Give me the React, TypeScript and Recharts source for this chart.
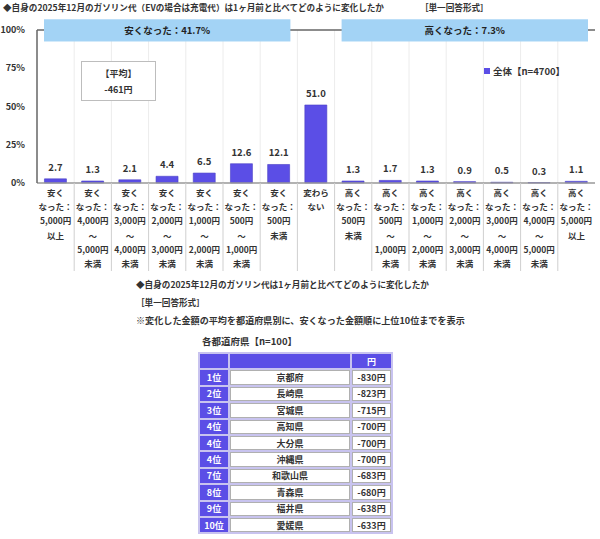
import React from 'react'
import {
  BarChart,
  Bar,
  XAxis,
  YAxis,
  CartesianGrid,
  LabelList,
  Legend,
  ReferenceArea,
} from 'recharts'

const categories = [
  '安く/なった：/5,000円/以上',
  '安く/なった：/4,000円/～/5,000円/未満',
  '安く/なった：/3,000円/～/4,000円/未満',
  '安く/なった：/2,000円/～/3,000円/未満',
  '安く/なった：/1,000円/～/2,000円/未満',
  '安く/なった：/500円/～/1,000円/未満',
  '安く/なった：/500円/未満',
  '変わら/ない',
  '高く/なった：/500円/未満',
  '高く/なった：/500円/～/1,000円/未満',
  '高く/なった：/1,000円/～/2,000円/未満',
  '高く/なった：/2,000円/～/3,000円/未満',
  '高く/なった：/3,000円/～/4,000円/未満',
  '高く/なった：/4,000円/～/5,000円/未満',
  '高く/なった：/5,000円/以上',
]
const totals = [2.7, 1.3, 2.1, 4.4, 6.5, 12.6, 12.1, 51.0, 1.3, 1.7, 1.3, 0.9, 0.5, 0.3, 1.1]
const yTicks = [0, 25, 50, 75, 100]
const groupLabels = ['安くなった：41.7%', '高くなった：7.3%']
// first and last category covered by each group banner
const groupSpans = [
  [0, 6],
  [8, 14],
]

const ranks = ['1位', '2位', '3位', '4位', '4位', '4位', '7位', '8位', '9位', '10位']
const prefectures = ['京都府', '長崎県', '宮城県', '高知県', '大分県', '沖縄県', '和歌山県', '青森県', '福井県', '愛媛県']
const amounts = [-830, -823, -715, -700, -700, -700, -683, -680, -638, -633]

const FONT = '"Noto Sans CJK JP", "Noto Sans", sans-serif'
const PURPLE = '#5b4ee6'
const BANNER = '#a3d3f5'

const W = 600
const H = 280
const LEFT = 37
const RIGHT = 5
const TOP = 30
const X_AXIS_H = 97
const band = (W - LEFT - RIGHT) / categories.length

const chartData = categories.map((c, i) => ({ name: c, total: totals[i] }))

function CategoryTick(props: any) {
  const { x, y, payload, index } = props
  const lines = String(payload.value).split('/')
  return (
    <g>
      {index > 0 && (
        <line x1={x - band / 2} x2={x - band / 2} y1={y - 8} y2={y + 80} stroke="#cfcfcf" strokeWidth={1} />
      )}
      <text textAnchor="middle" fontSize={8.5} fontWeight={700} fill="#333" fontFamily={FONT}>
        {lines.map((l, i) => (
          <tspan key={i} x={x} y={y + 5 + i * 14.2}>
            {l}
          </tspan>
        ))}
      </text>
    </g>
  )
}

// the area runs from the start of the first band to the end of the last one
function bannerShape(label: string) {
  return (p: any) => {
    const x = p.x + 7
    const w = p.width - 14
    return (
      <g>
        <rect x={x} y={p.y} width={w} height={p.height} fill={BANNER} />
        <text
          x={x + w / 2}
          y={p.y + p.height / 2 + 3.5}
          textAnchor="middle"
          fontSize={9.5}
          fontWeight={700}
          fill="#222"
          fontFamily={FONT}
        >
          {label}
        </text>
      </g>
    )
  }
}

function LegendContent() {
  return (
    <div style={{ position: 'relative', height: 0 }}>
      <div
        style={{
          position: 'absolute',
          left: 0,
          top: 0,
          display: 'flex',
          alignItems: 'center',
          whiteSpace: 'nowrap',
          fontFamily: FONT,
          fontSize: 9.5,
          fontWeight: 700,
          color: '#333',
        }}
      >
        <span style={{ display: 'inline-block', width: 6, height: 6, background: PURPLE, marginRight: 3 }} />
        全体【n=4700】
      </div>
    </div>
  )
}

const textLine: React.CSSProperties = {
  position: 'absolute',
  fontFamily: FONT,
  fontWeight: 700,
  color: '#333',
  whiteSpace: 'nowrap',
}

const cell: React.CSSProperties = { padding: 0, lineHeight: '11px', textAlign: 'center' }

export default function App() {
  return (
    <div style={{ position: 'relative', width: W, height: 539, background: '#fff', overflow: 'hidden' }}>
      <style>{'body{margin:0}'}</style>
      <div style={{ ...textLine, left: 3, top: 1, fontSize: 8.6 }}>
        ◆自身の2025年12月のガソリン代（EVの場合は充電代）は1ヶ月前と比べてどのように変化したか
        <span style={{ marginLeft: 36 }}>［単一回答形式］</span>
      </div>

      <BarChart
        width={W}
        height={H}
        data={chartData}
        margin={{ top: TOP, right: RIGHT, left: 0, bottom: 0 }}
        barCategoryGap="20%"
        style={{ position: 'absolute', left: 0, top: 0 }}
      >
        <CartesianGrid
          horizontal={false}
          stroke="#ececec"
          verticalCoordinatesGenerator={({ offset }: any) =>
            categories.slice(1).map((_, i) => offset.left + (i + 1) * (offset.width / categories.length))
          }
        />
        <CartesianGrid
          vertical={false}
          stroke="#666"
          strokeWidth={1.5}
          horizontalCoordinatesGenerator={({ offset }: any) => [offset.top]}
        />
        <XAxis
          dataKey="name"
          interval={0}
          height={X_AXIS_H}
          tickLine={false}
          axisLine={{ stroke: '#999', strokeWidth: 1.5 }}
          tick={<CategoryTick />}
        />
        <YAxis
          domain={[0, 100]}
          ticks={yTicks}
          width={LEFT}
          tickFormatter={(v: number) => `${v}%`}
          tickLine={false}
          tickSize={8}
          tickMargin={4}
          axisLine={{ stroke: '#666', strokeWidth: 1.5 }}
          tick={{ fontSize: 9, fontWeight: 700, fill: '#333', fontFamily: FONT }}
        />
        <YAxis
          yAxisId="frame"
          orientation="right"
          width={0}
          domain={[0, 100]}
          tick={false}
          tickLine={false}
          axisLine={{ stroke: '#666', strokeWidth: 1.5 }}
        />
        {groupSpans.map(([a, b], i) => (
          <ReferenceArea
            key={i}
            x1={categories[a]}
            x2={categories[b]}
            y1={92.5}
            y2={107}
            ifOverflow="visible"
            shape={bannerShape(groupLabels[i])}
          />
        ))}
        <Legend content={<LegendContent />} wrapperStyle={{ position: 'absolute', left: 484, top: 64, width: 'auto', height: 0 }} />
        <Bar dataKey="total" name="全体【n=4700】" fill={PURPLE} stroke="#4a3fc4" strokeWidth={0.6} isAnimationActive={false}>
          <LabelList
            dataKey="total"
            position="top"
            offset={8}
            formatter={(v: any) => Number(v).toFixed(1)}
            style={{ fontSize: 9.5, fontWeight: 700, fill: '#333', fontFamily: FONT }}
          />
        </Bar>
      </BarChart>

      <div
        style={{
          position: 'absolute',
          left: 81,
          top: 61,
          width: 75,
          height: 40,
          border: '1px solid #bdbdbd',
          background: '#fff',
          fontFamily: FONT,
          fontWeight: 700,
          fontSize: 9,
          color: '#333',
          textAlign: 'center',
          lineHeight: '16px',
          paddingTop: 4,
          boxSizing: 'border-box',
        }}
      >
        <div>【平均】</div>
        <div>-461円</div>
      </div>

      <div style={{ ...textLine, left: 136, top: 278, fontSize: 8.6 }}>
        ◆自身の2025年12月のガソリン代は1ヶ月前と比べてどのように変化したか
      </div>
      <div style={{ ...textLine, left: 136, top: 296, fontSize: 8.6 }}>［単一回答形式］</div>
      <div style={{ ...textLine, left: 136, top: 313, fontSize: 9.1 }}>
        ※変化した金額の平均を都道府県別に、安くなった金額順に上位10位までを表示
      </div>
      <div style={{ ...textLine, left: 202, top: 334, fontSize: 9.5 }}>各都道府県【n=100】</div>

      <table
        style={{
          position: 'absolute',
          left: 198,
          top: 352,
          width: 195,
          borderCollapse: 'separate',
          borderSpacing: 2,
          background: '#c8c3ef',
          fontFamily: FONT,
          fontWeight: 700,
          fontSize: 9,
          color: '#333',
        }}
      >
        <tbody>
          <tr style={{ height: 14.4 }}>
            <td style={{ ...cell, background: PURPLE, width: 28 }} />
            <td style={{ ...cell, background: PURPLE }} />
            <td style={{ ...cell, background: PURPLE, color: '#fff', width: 39 }}>円</td>
          </tr>
          {prefectures.map((p, i) => (
            <tr key={i} style={{ height: 14.4 }}>
              <td style={{ ...cell, background: PURPLE, color: '#fff' }}>{ranks[i]}</td>
              <td style={{ ...cell, background: '#fff', border: '1px solid #b0b0b0' }}>{p}</td>
              <td style={{ ...cell, background: '#fff', border: '1px solid #b0b0b0' }}>{amounts[i]}円</td>
            </tr>
          ))}
        </tbody>
      </table>
    </div>
  )
}
